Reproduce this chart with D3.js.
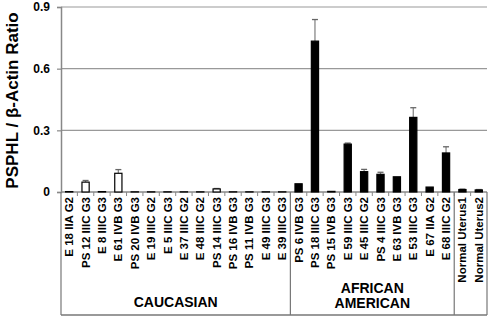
<!DOCTYPE html>
<html>
<head>
<meta charset="utf-8">
<script src="https://cdn.jsdelivr.net/npm/d3@7"></script>
<style>
  body { margin: 0; background: #fff; }
  text { font-family: "Liberation Sans", Arial, sans-serif; font-weight: bold; fill: #000; }
</style>
</head>
<body>
<div id="chart"></div>
<script>
// sample labels, grouped
const caucasian = ["E 18 IIA G2", "PS 12 IIIC G3", "E 8 IIIC G3", "E 61 IVB G3", "PS 20 IVB G3",
    "E 19 IIIC G2", "E 5 IIIC G3", "E 37 IIIC G2", "E 48 IIIC G2", "PS 14 IIIC G3",
    "PS 16 IVB G3", "PS 11 IVB G3", "E 49 IIIC G3", "E 39 IIIC G3"];
const african = ["PS 6 IVB G3", "PS 18 IIIC G3", "PS 15 IVB G3", "E 59 IIIC G3", "E 45 IIIC G2",
    "PS 4 IIIC G3", "E 63 IVB G3", "E 53 IIIC G3", "E 67 IIA G2", "E 68 IIIC G2"];
const normal = ["Normal Uterus1", "Normal Uterus2"];

// ratio values and upper error
const caucasianValues = [0.002, 0.048, 0.002, 0.091, 0.001, 0.001, 0.001, 0.001, 0.001, 0.015, 0.001, 0.001, 0.001, 0.001];
const caucasianErrors = [0, 0.008, 0, 0.018, 0, 0, 0, 0, 0, 0.002, 0, 0, 0, 0];
const africanValues = [0.04, 0.734, 0.003, 0.233, 0.099, 0.086, 0.074, 0.363, 0.024, 0.19];
const africanErrors = [0, 0.105, 0, 0.005, 0.011, 0.01, 0, 0.047, 0, 0.03];
const normalValues = [0.012, 0.01];
const normalErrors = [0.002, 0.002];

const yTicks = [0, 0.3, 0.6, 0.9];
const groups = [
    { lines: ["CAUCASIAN"], items: caucasian },
    { lines: ["AFRICAN", "AMERICAN"], items: african },
    { lines: [], items: normal }
];

const labels = caucasian.concat(african, normal);
const values = caucasianValues.concat(africanValues, normalValues);
const errors = caucasianErrors.concat(africanErrors, normalErrors);
const fills = labels.map((d, i) => i < caucasian.length ? "#fff" : "#000");

const width = 490, height = 320;
const margin = { top: 7, right: 3, bottom: 128, left: 61 };
const boxBottom = 315;

const svg = d3.select("#chart").append("svg")
    .attr("width", width)
    .attr("height", height);

const x = d3.scaleBand()
    .domain(labels)
    .range([margin.left, width - margin.right])
    .paddingInner(0.56)
    .paddingOuter(0.28);

const y = d3.scaleLinear()
    .domain([0, 0.9])
    .range([height - margin.bottom, margin.top]);

const x0 = margin.left, x1 = width - margin.right;
const slot = (x1 - x0) / labels.length;

// gridlines
svg.append("g")
    .selectAll("line")
    .data(yTicks.filter(d => d > 0))
    .join("line")
    .attr("x1", x0).attr("x2", x1)
    .attr("y1", d => y(d)).attr("y2", d => y(d))
    .attr("stroke", "#999")
    .attr("stroke-width", 1.2);

// y axis
const yAxis = svg.append("g")
    .attr("transform", `translate(${x0},0)`)
    .call(d3.axisLeft(y).tickValues(yTicks).tickFormat(d => d === 0 ? "0" : d3.format(".1f")(d)).tickSize(4).tickPadding(7));
yAxis.select(".domain").attr("stroke", "#888").attr("stroke-width", 1.5);
yAxis.selectAll(".tick line").attr("stroke", "#888").attr("stroke-width", 1.2);
yAxis.selectAll(".tick text")
    .style("font-size", "12px")
    .style("font-family", "Liberation Sans, Arial, sans-serif")
    .style("font-weight", "bold");

svg.append("text")
    .attr("transform", `translate(18,${(margin.top + y(0)) / 2 + 1}) rotate(-90)`)
    .attr("text-anchor", "middle")
    .style("font-size", "17px")
    .text("PSPHL / β-Actin Ratio");

// baseline
svg.append("line")
    .attr("x1", x0).attr("x2", x1)
    .attr("y1", y(0)).attr("y2", y(0))
    .attr("stroke", "#888")
    .attr("stroke-width", 1.5);

// category ticks
svg.append("g")
    .selectAll("line")
    .data(d3.range(1, labels.length))
    .join("line")
    .attr("x1", i => x0 + i * slot)
    .attr("x2", i => x0 + i * slot)
    .attr("y1", y(0)).attr("y2", y(0) + 4)
    .attr("stroke", "#888");

// error bars
const eb = svg.append("g");
labels.forEach((d, i) => {
    if (!errors[i]) return;
    const cx = x(d) + x.bandwidth() / 2;
    eb.append("line")
        .attr("x1", cx).attr("x2", cx)
        .attr("y1", y(values[i])).attr("y2", y(values[i] + errors[i]))
        .attr("stroke", "#888").attr("stroke-width", 1.3);
    eb.append("line")
        .attr("x1", cx - 3).attr("x2", cx + 3)
        .attr("y1", y(values[i] + errors[i])).attr("y2", y(values[i] + errors[i]))
        .attr("stroke", "#666").attr("stroke-width", 1.3);
});

// bars
svg.append("g")
    .selectAll("rect")
    .data(labels)
    .join("rect")
    .attr("x", d => x(d))
    .attr("width", x.bandwidth())
    .attr("y", (d, i) => y(values[i]))
    .attr("height", (d, i) => y(0) - y(values[i]))
    .attr("fill", (d, i) => fills[i])
    .attr("stroke", "#000")
    .attr("stroke-width", 1.2);

// category labels
svg.append("g")
    .selectAll("text")
    .data(labels)
    .join("text")
    .attr("transform", d => `translate(${x(d) + x.bandwidth() / 2 + 4},${y(0) + 5}) rotate(-90)`)
    .attr("text-anchor", "end")
    .style("font-size", "11.5px")
    .text(d => d);

// group boxes
const box = svg.append("g");
let start = 0;
groups.forEach(g => {
    const gx0 = x0 + start * slot;
    const gx1 = x0 + (start + g.items.length) * slot;
    box.append("line")
        .attr("x1", gx0).attr("x2", gx0)
        .attr("y1", y(0)).attr("y2", boxBottom)
        .attr("stroke", "#777").attr("stroke-width", 1.2);
    g.lines.forEach((t, j) => {
        box.append("text")
            .attr("x", (gx0 + gx1) / 2)
            .attr("y", g.lines.length === 1 ? 307 : 293 + j * 15)
            .attr("text-anchor", "middle")
            .style("font-size", "14px")
            .text(t);
    });
    start += g.items.length;
});
box.append("line")
    .attr("x1", x1).attr("x2", x1)
    .attr("y1", y(0)).attr("y2", boxBottom)
    .attr("stroke", "#777").attr("stroke-width", 1.2);
box.append("line")
    .attr("x1", x0).attr("x2", x1)
    .attr("y1", boxBottom).attr("y2", boxBottom)
    .attr("stroke", "#777").attr("stroke-width", 1.5);
</script>
</body>
</html>
